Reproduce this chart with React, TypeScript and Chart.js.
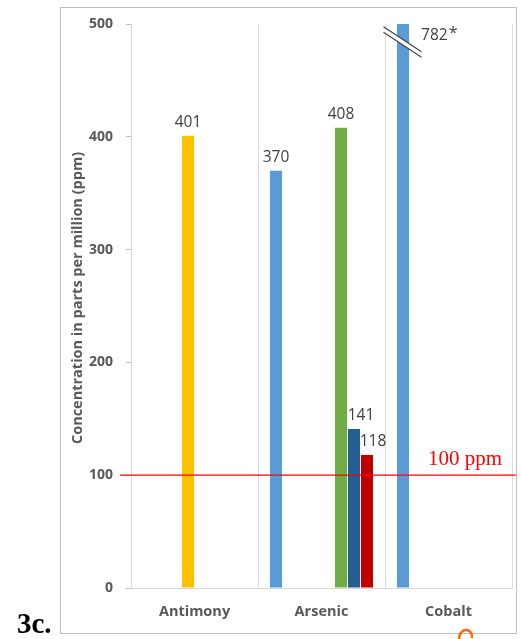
import React, { useEffect, useRef } from "react";
import { Chart, registerables } from "chart.js";

Chart.register(...registerables);

const categories = ["Antimony", "Arsenic", "Cobalt"];
const seriesColors = ["#5B9BD5", "#ED7D31", "#A5A5A5", "#FFC000", "#4472C4", "#70AD47", "#255E91", "#C00000"];
const seriesA = [null, 370, 782];
const seriesB = [null, null, null];
const seriesC = [null, null, null];
const seriesD = [401, null, null];
const seriesE = [null, null, null];
const seriesF = [null, 408, null];
const seriesG = [null, 141, null];
const seriesH = [null, 118, null];
const allSeries = [seriesA, seriesB, seriesC, seriesD, seriesE, seriesF, seriesG, seriesH];
const yTickValues = [0, 100, 200, 300, 400, 500];
const thresholdValue = 100;
const thresholdLabel = "100 ppm";
const axisTitle = "Concentration in parts per million (ppm)";
const panelLabel = "3c.";
const brokenMark = "*";

// horizontal nudge of value labels per series (style only)
const labelNudge = [0, 0, 0, 0, 0, 0, 7, 6];

const FONT = "'Open Sans', 'DejaVu Sans', sans-serif";
const SERIF = "'Liberation Serif', 'DejaVu Serif', serif";

const overlayPlugin = {
  id: "overlayPlugin",
  beforeDraw(chart: any) {
    const ctx = chart.ctx;
    ctx.save();
    ctx.fillStyle = "#ffffff";
    ctx.fillRect(0, 0, chart.width, chart.height);
    ctx.strokeStyle = "#BFBFBF";
    ctx.lineWidth = 1;
    ctx.strokeRect(60.5, 7.5, 456, 626);
    ctx.restore();
  },
  afterDatasetsDraw(chart: any) {
    const ctx = chart.ctx;
    const yScale = chart.scales.y;
    const area = chart.chartArea;
    ctx.save();
    chart.data.datasets.forEach((ds: any, di: number) => {
      const meta = chart.getDatasetMeta(di);
      meta.data.forEach((bar: any, i: number) => {
        const v = ds.data[i];
        if (v === null || v === undefined) return;
        const props = bar.getProps(["x", "y", "width"], true);
        if (v > yScale.max) {
          const x0 = props.x - 19.5;
          const x1 = props.x + 18.5;
          const yA0 = area.top + 2.7;
          const yA1 = area.top + 27.7;
          const off = 5.5;
          ctx.fillStyle = "#ffffff";
          ctx.beginPath();
          ctx.moveTo(x0, yA0);
          ctx.lineTo(x1, yA1);
          ctx.lineTo(x1, yA1 + off);
          ctx.lineTo(x0, yA0 + off);
          ctx.closePath();
          ctx.fill();
          ctx.strokeStyle = "#404040";
          ctx.lineWidth = 1.1;
          ctx.beginPath();
          ctx.moveTo(x0, yA0);
          ctx.lineTo(x1, yA1);
          ctx.moveTo(x0, yA0 + off);
          ctx.lineTo(x1, yA1 + off);
          ctx.stroke();
          ctx.fillStyle = "#404040";
          ctx.font = `15.5px ${FONT}`;
          ctx.textAlign = "left";
          ctx.textBaseline = "alphabetic";
          const tx = props.x + props.width / 2 + 12;
          const txt = String(v);
          ctx.fillText(txt, tx, area.top + 16);
          const w = ctx.measureText(txt).width;
          ctx.font = `16px ${FONT}`;
          ctx.fillText(brokenMark, tx + w + 1, area.top + 14);
        } else {
          ctx.fillStyle = "#404040";
          ctx.font = `15.5px ${FONT}`;
          ctx.textAlign = "center";
          ctx.textBaseline = "alphabetic";
          ctx.fillText(String(v), props.x + (labelNudge[di] || 0), props.y - 9);
        }
      });
    });
    const ty = yScale.getPixelForValue(thresholdValue);
    ctx.strokeStyle = "#FF0000";
    ctx.lineWidth = 1.2;
    ctx.beginPath();
    ctx.moveTo(120, ty);
    ctx.lineTo(516, ty);
    ctx.stroke();
    ctx.fillStyle = "#FF0000";
    ctx.font = `21px ${SERIF}`;
    ctx.textAlign = "left";
    ctx.textBaseline = "alphabetic";
    ctx.fillText(thresholdLabel, 428, ty - 10);
    ctx.restore();
  },
  afterDraw(chart: any) {
    const ctx = chart.ctx;
    ctx.save();
    ctx.translate(78, 298);
    ctx.rotate(-Math.PI / 2);
    ctx.fillStyle = "#595959";
    ctx.font = `bold 14.5px ${FONT}`;
    ctx.textAlign = "center";
    ctx.textBaseline = "middle";
    ctx.fillText(axisTitle, 0, 0);
    ctx.restore();
    ctx.save();
    ctx.fillStyle = "#000000";
    ctx.font = `bold 29px ${SERIF}`;
    ctx.textAlign = "left";
    ctx.textBaseline = "alphabetic";
    ctx.fillText(panelLabel, 17, 633);
    ctx.strokeStyle = "#FF6A00";
    ctx.lineWidth = 2.5;
    ctx.beginPath();
    ctx.arc(466, 636, 6, Math.PI * 1.05, Math.PI * 2.1);
    ctx.stroke();
    ctx.beginPath();
    ctx.moveTo(460, 633);
    ctx.lineTo(459, 639);
    ctx.stroke();
    ctx.restore();
  },
};

export default function App() {
  const canvasRef = useRef<HTMLCanvasElement | null>(null);

  useEffect(() => {
    if (!canvasRef.current) return;
    const chart = new Chart(canvasRef.current, {
      type: "bar",
      data: {
        labels: categories,
        datasets: allSeries.map((s, i) => ({
          label: `Series ${i + 1}`,
          data: s,
          backgroundColor: seriesColors[i],
          borderWidth: 0,
          categoryPercentage: 0.819,
          barPercentage: 0.93,
          clip: 0,
        })),
      } as any,
      options: {
        responsive: false,
        animation: false,
        devicePixelRatio: window.devicePixelRatio || 1,
        layout: { padding: { left: 0, right: 9, top: 24, bottom: 0 } },
        plugins: {
          legend: { display: false },
          tooltip: { enabled: false },
          title: { display: false },
        },
        scales: {
          x: {
            grid: {
              display: true,
              offset: true,
              color: "#D9D9D9",
              lineWidth: 1,
              drawTicks: false,
              tickLength: 0,
            },
            border: { display: true, color: "#D9D9D9", width: 1 },
            ticks: {
              color: "#595959",
              font: { family: FONT, size: 14.5, weight: "bold" },
              padding: 15,
            },
            afterFit: (scale: any) => {
              scale.height = 51;
            },
          },
          y: {
            min: 0,
            max: 500,
            afterBuildTicks: (scale: any) => {
              scale.ticks = yTickValues.map((v) => ({ value: v }));
            },
            grid: {
              drawOnChartArea: false,
              drawTicks: true,
              tickLength: 5,
              color: "#BFBFBF",
            },
            border: { display: true, color: "#D9D9D9", width: 1 },
            ticks: {
              color: "#595959",
              font: { family: FONT, size: 14, weight: "bold" },
              padding: 13,
            },
            afterFit: (scale: any) => {
              scale.width = 131;
            },
          },
        },
      } as any,
      plugins: [overlayPlugin],
    });
    return () => chart.destroy();
  }, []);

  return (
    <div style={{ position: "absolute", left: 0, top: 0, width: 521, height: 639 }}>
      <canvas ref={canvasRef} width={521} height={639} style={{ display: "block", width: 521, height: 639 }} />
    </div>
  );
}
